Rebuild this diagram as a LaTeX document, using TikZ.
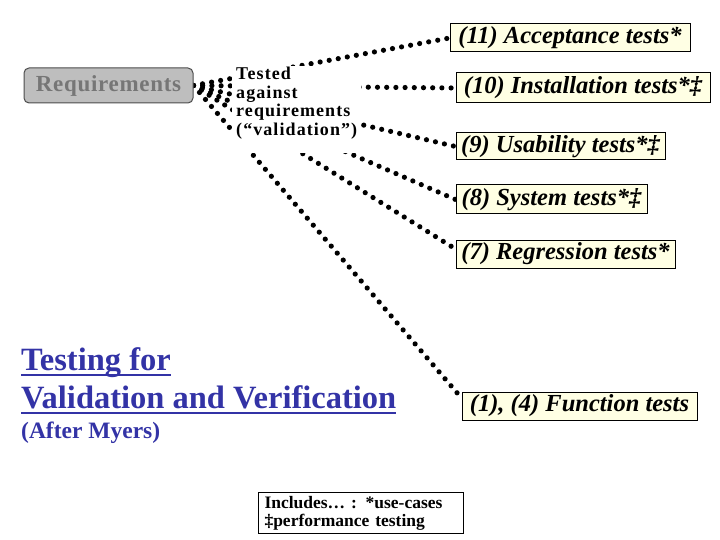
\documentclass[tikz,border=0pt]{standalone}
\usepackage{fontspec}
\setmainfont{Liberation Serif}
\usetikzlibrary{backgrounds,calc}
\definecolor{boxfill}{RGB}{255,255,228}
\definecolor{titleblue}{RGB}{51,51,166}
\definecolor{reqfill}{RGB}{190,190,190}
\definecolor{reqtext}{RGB}{118,118,118}
\begin{document}
\begin{tikzpicture}[x=1pt,y=-1pt,
  testbox/.style={draw=black, line width=1pt, fill=boxfill, inner sep=0pt,
    font=\fontsize{24.5}{27}\selectfont\bfseries\itshape},
  dotline/.style={line width=5.2pt, line cap=round, dash pattern=on 0pt off 9.2pt},
  titletext/.style={anchor=base west, inner sep=0pt, text=titleblue,
    font=\fontsize{32.5}{35}\selectfont\bfseries},
  uline/.style={draw=titleblue, line width=2.5pt}]
\useasboundingbox (0,0) rectangle (720,540);

% requirements
\node[draw=black!70, line width=1pt, fill=reqfill, rounded corners=5pt,
  minimum width=169pt, minimum height=35pt, inner sep=0pt, text=reqtext,
  font=\fontsize{23}{25}\selectfont\bfseries\addfontfeatures{LetterSpace=3}] (req) at (108.5,85.5) {Requirements};

% test boxes
\node[testbox, minimum width=240pt, minimum height=28pt] (a11) at (570,38) {(11) Acceptance tests*};
\node[testbox, minimum width=254pt, minimum height=30pt] (a10) at (583,88) {(10) Installation tests*‡};
\node[testbox, minimum width=209pt, minimum height=27pt] (a9) at (560.5,146.5) {(9) Usability tests*‡};
\node[testbox, minimum width=191pt, minimum height=29pt] (a8) at (551.5,199.5) {(8) System tests*‡};
\node[testbox, minimum width=219pt, minimum height=28pt] (a7) at (565.5,254) {(7) Regression tests*};
\node[testbox, minimum width=235pt, minimum height=28pt] (a1) at (579.5,406) {(1), (4) Function tests};

% validation text
\node[anchor=north west, inner sep=0pt, align=left,
  font=\fontsize{18}{18.5}\selectfont\bfseries\addfontfeatures{LetterSpace=6}] (tested) at (236,67)
  {Tested\\against\\requirements\\(“validation”)};

% connectors
\begin{scope}[on background layer]
  \draw[dotline] (req.east) -- (a11.west);
  \draw[dotline] (req.east) -- (a10.west);
  \draw[dotline] (req.east) -- (a9.west);
  \draw[dotline] (req.east) -- (a8.west);
  \draw[dotline] (req.east) -- ([yshift=5pt]a7.west);
  \draw[dotline] (req.east) -- ([yshift=8pt]a1.west);
  \fill[white] ($(tested.north west)+(-4,-1)$) rectangle ($(tested.south east)+(4,14)$);
\end{scope}

% title
\node[titletext] (t1) at (21,370) {Testing for};
\node[titletext] (t2) at (21,408) {Validation and Verification};
\node[titletext, font=\fontsize{23.5}{25}\selectfont\bfseries] (myers) at (21,438) {(After Myers)};
\draw[uline] ([yshift=-5pt]t1.base west) -- ([yshift=-5pt]t1.base east);
\draw[uline] ([yshift=-5pt]t2.base west) -- ([yshift=-5pt]t2.base east);

% legend
\node[draw=black, line width=1pt, anchor=north west, text width=193pt, minimum height=41pt,
  inner xsep=6pt, inner ysep=3pt, align=left,
  font=\fontsize{17.5}{18}\selectfont\bfseries] (legend) at (258,492)
  {Includes… : *use-cases\\‡performance testing};
\end{tikzpicture}
\end{document}
